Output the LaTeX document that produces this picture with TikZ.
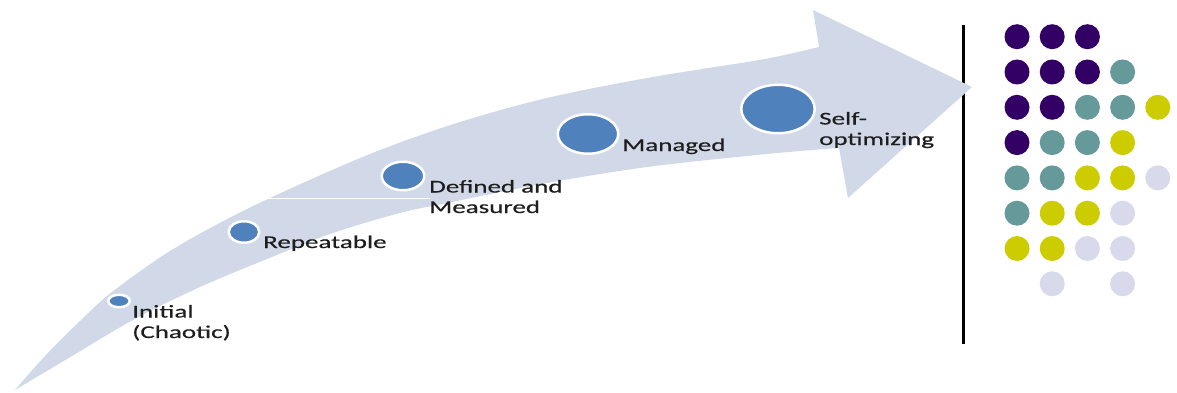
\documentclass[tikz,border=0pt]{standalone}
\usepackage{fontspec}
\newfontfamily\lblfont[FakeStretch=1.5,FakeBold=0.35]{Carlito}
\newfontfamily\lblboldfont[FakeStretch=1.5,FakeBold=1.2]{Carlito}
\usetikzlibrary{shapes.geometric}
\definecolor{bandfill}{HTML}{D1D9E8}
\definecolor{stageblue}{HTML}{4F81BD}
\definecolor{labelgray}{HTML}{1E1E1E}
\definecolor{dotpurple}{HTML}{330066}
\definecolor{dotteal}{HTML}{669999}
\definecolor{dotyellow}{HTML}{CCCC00}
\definecolor{dotlav}{HTML}{D9D9EC}
\begin{document}
\begin{tikzpicture}[x=1pt,y=-1pt,
  stage/.style={ellipse, fill=stageblue, draw=white, line width=2.5pt, inner sep=0pt},
  stagelabel/.style={anchor=base west, inner sep=0pt, align=left, text=labelgray,
    font=\lblfont\fontsize{18}{20.5}\selectfont},
  dotnode/.style={circle, minimum size=25pt, inner sep=0pt}]
\useasboundingbox (0,0) rectangle (1177,393);
% divider line (behind the arrow tip)
\coordinate (vtop) at (963,25);
\coordinate (vbot) at (963,344);
\draw[line width=3pt, black] (vtop) -- (vbot);
% curved arrow band
\fill[bandfill] plot[smooth, tension=0.55] coordinates {(15,390) (45,356) (80,321) (112,292) (170,251) (235,215) (305,182) (380,150) (460,122) (547,98) (647,78) (747,62) (780,56) (819,47)}
  -- (813,10) -- (972,87) -- (848,198) -- (839,148)
  -- plot[smooth, tension=0.55] coordinates {(839,148) (800,151) (747,156) (647,167) (547,183) (447,203) (400,213) (333,233) (267,259) (200,287) (133,320) (67,359) (15,390)} -- cycle;
% seam line
\coordinate (seamA) at (257,198);
\coordinate (seamB) at (430,198);
\draw[white, line width=0.8pt] (seamA) -- (seamB);
% stages
\node[stage, minimum width=21.5pt, minimum height=12.5pt] (s1) at (119,301) {};
\node[stage, minimum width=30.5pt, minimum height=21.5pt] (s2) at (244,232) {};
\node[stage, minimum width=42.5pt, minimum height=28.5pt] (s3) at (403,176) {};
\node[stage, minimum width=60.5pt, minimum height=39.5pt] (s4) at (588,134) {};
\node[stage, minimum width=73.5pt, minimum height=48.5pt] (s5) at (778,109) {};
% labels (base anchor = baseline of the last line)
\node[stagelabel] (l1) at (132,338) {Initial\\(Chaotic)};
\node[stagelabel] (l2) at (263,248) {Repeatable};
\node[stagelabel] (l3) at (429,213) {Defined {\lblboldfont and}\\Measured};
\node[stagelabel] (l4) at (622,151) {Managed};
\node[stagelabel] (l5) at (819,145) {Self-\\optimiz{\lblboldfont ing}};
% dot grid
\foreach \c/\r/\col [count=\i] in {
  0/0/dotpurple,1/0/dotpurple,2/0/dotpurple,
  0/1/dotpurple,1/1/dotpurple,2/1/dotpurple,3/1/dotteal,
  0/2/dotpurple,1/2/dotpurple,2/2/dotteal,3/2/dotteal,4/2/dotyellow,
  0/3/dotpurple,1/3/dotteal,2/3/dotteal,3/3/dotyellow,
  0/4/dotteal,1/4/dotteal,2/4/dotyellow,3/4/dotyellow,4/4/dotlav,
  0/5/dotteal,1/5/dotyellow,2/5/dotyellow,3/5/dotlav,
  0/6/dotyellow,1/6/dotyellow,2/6/dotlav,3/6/dotlav,
  1/7/dotlav,3/7/dotlav}
  \node[dotnode, fill=\col] (d\i) at ({1017+35.2*\c},{36.7+35.3*\r}) {};
\end{tikzpicture}
\end{document}
